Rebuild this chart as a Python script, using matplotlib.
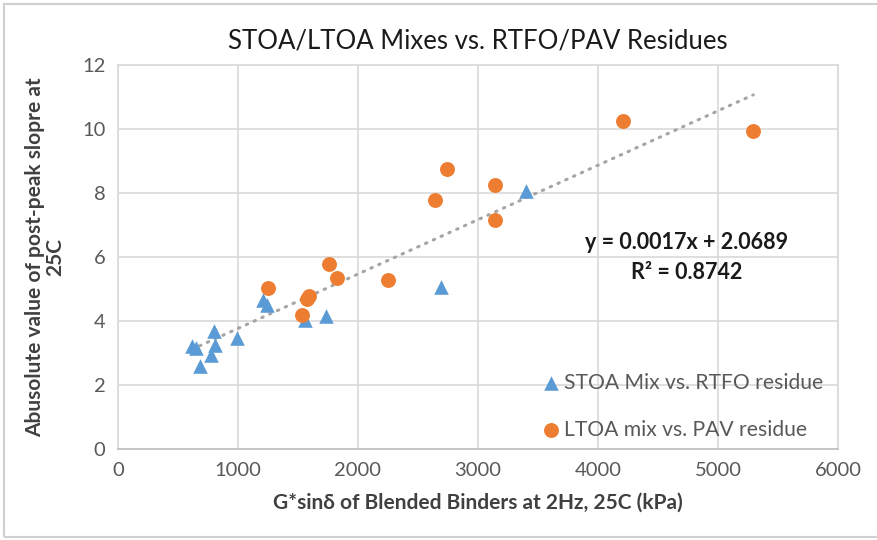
import matplotlib
matplotlib.use("Agg")
import matplotlib.pyplot as plt
from matplotlib.patches import Rectangle
import numpy as np

plt.rcParams['font.family'] = ['Lato', 'DejaVu Sans']

# STOA mix vs. RTFO residue
stoa_x = [614, 650, 803, 808, 773, 683, 994, 1206, 1239, 1558, 1733, 2692, 3397]
stoa_y = [3.21, 3.17, 3.68, 3.26, 2.95, 2.58, 3.47, 4.67, 4.51, 4.04, 4.17, 5.07, 8.05]

# LTOA mix vs. PAV residue
ltoa_x = [1253, 1758, 1823, 1573, 1592, 1531, 2253, 2739, 2642, 3142, 3142, 4211, 5294]
ltoa_y = [5.02, 5.77, 5.35, 4.69, 4.77, 4.20, 5.28, 8.75, 7.78, 8.25, 7.16, 10.24, 9.93]

# linear trendline as printed on the chart
slope = 0.0017
intercept = 2.0689
r_squared = 0.8742

x_ticks = [0, 1000, 2000, 3000, 4000, 5000, 6000]
y_ticks = [0, 2, 4, 6, 8, 10, 12]

blue = '#5B9BD5'
orange = '#ED7D31'
grid_col = '#D9D9D9'
text_col = '#595959'

fig = plt.figure(figsize=(8.78, 5.40), dpi=100)
ax = fig.add_axes([0.1344, 0.1685, 0.82, 0.711])

ax.scatter(stoa_x, stoa_y, marker='^', s=110, color=blue, linewidths=0,
           label='STOA Mix vs. RTFO residue', zorder=3)
ax.scatter(ltoa_x, ltoa_y, marker='o', s=115, color=orange, linewidths=0,
           label='LTOA mix vs. PAV residue', zorder=3)

all_x = stoa_x + ltoa_x
tx = np.array([min(all_x), max(all_x)])
ax.plot(tx, slope * tx + intercept, color='#A5A5A5', lw=2.2,
        linestyle=(0, (0.5, 2.3)), dash_capstyle='round', zorder=2)

ax.text(4742, 6.44, 'y = %.4fx + %.4f' % (slope, intercept), ha='center', va='center',
        fontsize=15.5, fontweight='bold', color='#1a1a1a')
ax.text(4742, 5.53, 'R² = %.4f' % r_squared, ha='center', va='center',
        fontsize=15.5, fontweight='bold', color='#1a1a1a')

ax.set_xlim(0, 6000)
ax.set_ylim(0, 12)
ax.set_xticks(x_ticks)
ax.set_yticks(y_ticks)
ax.grid(True, color=grid_col, lw=1.2)
ax.set_axisbelow(True)
for side in ['top', 'right', 'left']:
    ax.spines[side].set_color(grid_col)
    ax.spines[side].set_linewidth(1.2)
ax.spines['bottom'].set_color('#BFBFBF')
ax.spines['bottom'].set_linewidth(1.2)
ax.tick_params(length=0, labelsize=14.5, labelcolor=text_col, pad=9)

ax.set_title('STOA/LTOA Mixes vs. RTFO/PAV Residues', fontsize=18.5,
             color='#1a1a1a', pad=12)
ax.set_xlabel('G*sinδ of Blended Binders at 2Hz, 25C (kPa)', fontsize=15,
              fontweight='bold', color='#404040', labelpad=10)
ax.set_ylabel('Abusolute value of post-peak slopre at\n25C', fontsize=15,
              fontweight='bold', color='#404040', labelpad=12, linespacing=1.05)

leg = ax.legend(loc='lower right', bbox_to_anchor=(1.0, -0.015), frameon=False,
                fontsize=15.2, labelcolor=text_col, handletextpad=0.2,
                handlelength=0.8, labelspacing=1.3, borderaxespad=0.3)

fig.patches.append(Rectangle((0.004, 0.006), 1.2, 0.986, transform=fig.transFigure,
                             fill=False, edgecolor='#D0D0D0', lw=1.5))

fig.savefig('out.png', dpi=100)
